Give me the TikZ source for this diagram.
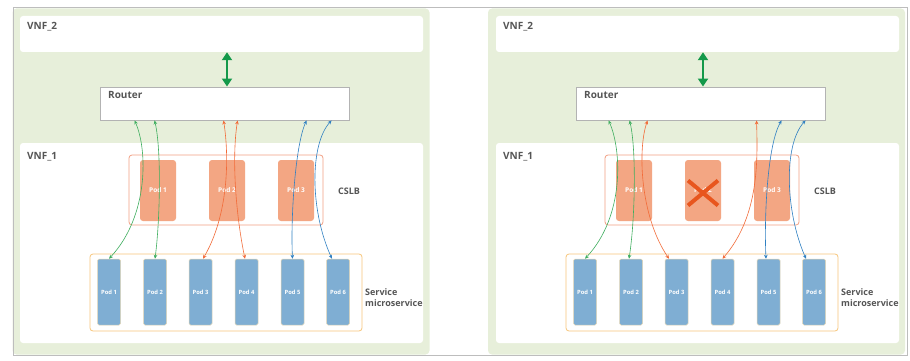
\documentclass[tikz,border=0pt]{standalone}
\usepackage{fontspec}
\setmainfont{Open Sans}
\usepackage{xcolor}
\usepackage{tikz}
\usetikzlibrary{arrows.meta}

\definecolor{panelgreen}{HTML}{E7EFDA}
\definecolor{framegray}{HTML}{BDBDBD}
\definecolor{routergray}{HTML}{B3B3B3}
\definecolor{labelgray}{HTML}{555555}
\definecolor{cslbpod}{HTML}{F3A683}
\definecolor{cslbline}{HTML}{F2A084}
\definecolor{svcpod}{HTML}{7FAED3}
\definecolor{svcline}{HTML}{F7C67C}
\definecolor{podedge}{HTML}{E5D7B5}
\definecolor{linkgreen}{HTML}{3FAE5F}
\definecolor{linkorange}{HTML}{F26B38}
\definecolor{linkblue}{HTML}{2F80C2}
\definecolor{trunkgreen}{HTML}{14994A}
\definecolor{failred}{HTML}{E8561E}

\begin{document}
\begin{tikzpicture}[x=1pt, y=-1pt,
    panel/.style={fill=panelgreen, rounded corners=4pt, minimum width=417pt, minimum height=346pt, inner sep=0pt},
    vnfbox/.style={fill=white, rounded corners=3pt, minimum width=403pt, inner sep=0pt},
    router/.style={draw=routergray, line width=0.9pt, fill=white, minimum width=249pt, minimum height=33pt, inner sep=0pt},
    title/.style={anchor=base west, inner sep=0pt, text=labelgray, font=\bfseries\fontsize{10}{12}\selectfont},
    tag/.style={inner sep=0pt, text=labelgray, align=left, font=\bfseries\fontsize{9}{10.7}\selectfont},
    lbgroup/.style={draw=cslbline, line width=0.8pt, rounded corners=3pt, minimum width=194pt, minimum height=70pt, inner sep=0pt},
    lbpod/.style={fill=cslbpod, rounded corners=3pt, minimum width=36pt, minimum height=61pt, inner sep=0pt, text=white, font=\bfseries\fontsize{6.5}{7}\selectfont},
    svcgroup/.style={draw=svcline, line width=0.8pt, rounded corners=3pt, minimum width=272pt, minimum height=77pt, inner sep=0pt},
    svcpod/.style={draw=podedge, line width=0.5pt, fill=svcpod, rounded corners=1.5pt, minimum width=23pt, minimum height=66pt, inner sep=0pt, text=white, font=\bfseries\fontsize{5.8}{6}\selectfont},
    link/.style={{Stealth[length=4pt,width=3.6pt]}-{Stealth[length=4pt,width=3.6pt]}, line width=0.6pt},
    trunk/.style={{Triangle[length=8pt,width=10pt]}-{Triangle[length=8pt,width=10pt]}, line width=2pt, draw=trunkgreen},
    fail/.style={draw=failred, line width=4pt}
]

\useasboundingbox (0,0) rectangle (910,361);

% left: all pods up
\node[panel] (lpanel) at (221,181.5) {};
\node[vnfbox, minimum height=36pt] (lvnftwo) at (221.5,34) {};
\node[vnfbox, minimum height=200pt] (lvnfone) at (221.5,243) {};
\node[title] (lvnftwolabel) at (27,30) {VNF\_2};
\node[title] (lvnfonelabel) at (27,159) {VNF\_1};
\node[router] (lrouter) at (224.5,103.5) {};
\node[title] (lrouterlabel) at (108,98) {Router};

\node[lbgroup] (lcslb) at (226,190) {};
\node[lbpod] (lcs1) at (158,190.5) {Pod 1};
\node[lbpod] (lcs2) at (227,190.5) {Pod 2};
\node[lbpod] (lcs3) at (296,190.5) {Pod 3};
\node[title, font=\bfseries\fontsize{9}{11}\selectfont] (lcslblabel) at (338,194) {CSLB};

\node[svcgroup] (lsvc) at (226,292.5) {};
\node[svcpod] (lsp1) at (109,292) {Pod 1};
\node[svcpod] (lsp2) at (155,292) {Pod 2};
\node[svcpod] (lsp3) at (200.5,292) {Pod 3};
\node[svcpod] (lsp4) at (246.5,292) {Pod 4};
\node[svcpod] (lsp5) at (292.5,292) {Pod 5};
\node[svcpod] (lsp6) at (338,292) {Pod 6};
\node[tag, anchor=north west] (lsvclabel) at (365,288.5) {Service\\microservice};

\draw[trunk] ([xshift=2.5pt]lrouter.north) -- ([xshift=2.5pt]lrouter.north |- lvnftwo.south);

\draw[link, linkgreen] ([xshift=35pt]lrouter.south west) .. controls +(13,29) and +(40,-43) .. (lsp1.north);
\draw[link, linkgreen] ([xshift=55pt]lrouter.south west) .. controls +(7,29) and +(5,-38) .. (lsp2.north);
\draw[link, linkorange] ([xshift=124pt]lrouter.south west) .. controls +(6,39) and +(25,-43) .. ([xshift=2.5pt]lsp3.north);
\draw[link, linkorange] ([xshift=138pt]lrouter.south west) .. controls +(-6,39) and +(-9,-43) .. ([xshift=-1.5pt]lsp4.north);
\draw[link, linkblue] ([xshift=207pt]lrouter.south west) .. controls +(-11,24) and +(-2,-43) .. (lsp5.north);
\draw[link, linkblue] ([xshift=232pt]lrouter.south west) .. controls +(-22,24) and +(-22,-48) .. ([xshift=-6pt]lsp6.north);

% right: pod 2 of the CSLB is down
\begin{scope}[xshift=476pt]
\node[panel] (rpanel) at (220.5,181.5) {};
\node[vnfbox, minimum height=36pt] (rvnftwo) at (221.5,34) {};
\node[vnfbox, minimum height=200pt] (rvnfone) at (221.5,243) {};
\node[title] (rvnftwolabel) at (27,30) {VNF\_2};
\node[title] (rvnfonelabel) at (27,159) {VNF\_1};
\node[router] (rrouter) at (224.5,103.5) {};
\node[title] (rrouterlabel) at (108,98) {Router};

\node[lbgroup] (rcslb) at (226,190) {};
\node[lbpod] (rcs1) at (158,190.5) {Pod 1};
\node[lbpod] (rcs2) at (227,190.5) {Pod 2};
\node[lbpod] (rcs3) at (296,190.5) {Pod 3};
\node[title, font=\bfseries\fontsize{9}{11}\selectfont] (rcslblabel) at (338,194) {CSLB};

\node[svcgroup] (rsvc) at (226,292.5) {};
\node[svcpod] (rsp1) at (109,292) {Pod 1};
\node[svcpod] (rsp2) at (155,292) {Pod 2};
\node[svcpod] (rsp3) at (200.5,292) {Pod 3};
\node[svcpod] (rsp4) at (246.5,292) {Pod 4};
\node[svcpod] (rsp5) at (292.5,292) {Pod 5};
\node[svcpod] (rsp6) at (338,292) {Pod 6};
\node[tag, anchor=north west] (rsvclabel) at (365,288.5) {Service\\microservice};

\draw[trunk] ([xshift=2.5pt]rrouter.north) -- ([xshift=2.5pt]rrouter.north |- rvnftwo.south);

\draw[link, linkgreen] ([xshift=33pt]rrouter.south west) .. controls +(13,29) and +(40,-43) .. (rsp1.north);
\draw[link, linkgreen] ([xshift=54pt]rrouter.south west) .. controls +(7,29) and +(6,-38) .. ([xshift=-2pt]rsp2.north);
\draw[link, linkorange] ([xshift=72pt]rrouter.south west) .. controls +(-10,29) and +(-29,-43) .. ([xshift=-7.5pt]rsp3.north);
\draw[link, linkorange] ([xshift=181pt]rrouter.south west) .. controls +(1,39) and +(37,-43) .. (rsp4.north);
\draw[link, linkblue] ([xshift=206pt]rrouter.south west) .. controls +(-14,24) and +(-2,-43) .. ([xshift=-2.5pt]rsp5.north);
\draw[link, linkblue] ([xshift=230pt]rrouter.south west) .. controls +(-22,24) and +(-21,-48) .. ([xshift=-8pt]rsp6.north);

\draw[fail] ([shift={(-15,-10)}]rcs2.center) -- ([shift={(15,15)}]rcs2.center);
\draw[fail] ([shift={(15,-10)}]rcs2.center) -- ([shift={(-15,15)}]rcs2.center);
\end{scope}

\draw[framegray, line width=0.8pt] (13,7) rectangle (907,355);

\end{tikzpicture}
\end{document}
